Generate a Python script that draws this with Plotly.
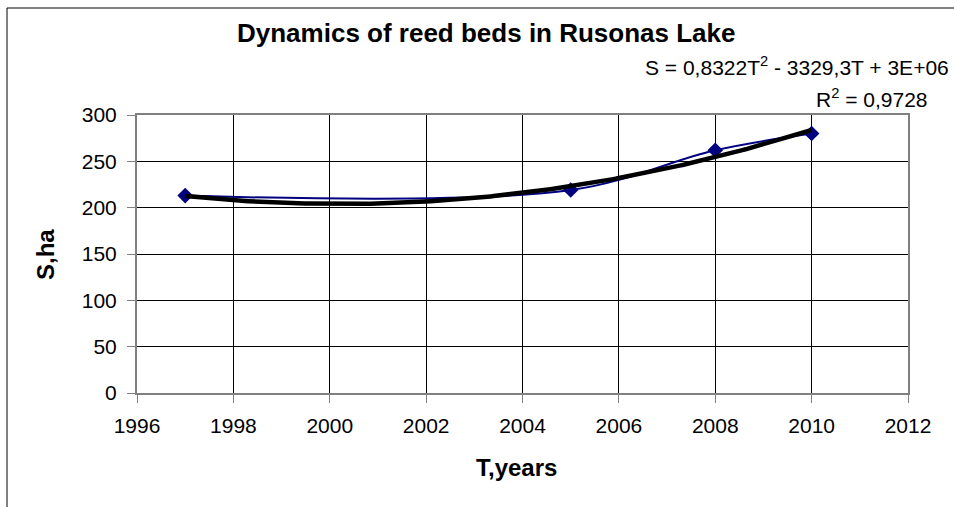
import numpy as np
import plotly.graph_objects as go

# ---- data ----
years = [1997, 2005, 2008, 2010]
area_ha = [213, 219, 262, 280]
title_text = "Dynamics of reed beds in Rusonas Lake"
eq_text = "S = 0,8322T<sup>2</sup> - 3329,3T + 3E+06"
r2_text = "R<sup>2</sup> = 0,9728"
x_title = "T,years"
y_title = "S,ha"

# quadratic trend (least squares, as the chart's trendline)
t = np.array(years, dtype=float)
coef = np.polyfit(t - 2000, np.array(area_ha, dtype=float), 2)
trend_x = np.linspace(min(years), max(years), 200)
trend_y = np.polyval(coef, trend_x - 2000)

W, H = 954, 507
L, R, T, B = 137, 46, 115, 114
PW, PH = W - L - R, H - T - B


def px(x):
    return (x - L) / PW


def py(y):
    return 1 - (y - T) / PH


FONT = "Liberation Sans, Arial, sans-serif"

fig = go.Figure()
fig.add_trace(go.Scatter(
    x=years, y=area_ha, mode="lines+markers",
    line=dict(color="#000080", width=2, shape="spline", smoothing=1),
    marker=dict(symbol="diamond", size=12, color="#000080"),
    showlegend=False, hoverinfo="x+y"))
fig.add_trace(go.Scatter(
    x=trend_x, y=trend_y, mode="lines",
    line=dict(color="black", width=4.5),
    showlegend=False, hoverinfo="skip"))

fig.update_layout(
    width=W, height=H,
    margin=dict(l=L, r=R, t=T, b=B),
    paper_bgcolor="white", plot_bgcolor="white",
    font=dict(family=FONT, color="black", size=21),
    xaxis=dict(range=[1996, 2012], dtick=2, tick0=1996,
               showgrid=True, gridcolor="black", gridwidth=1,
               showline=True, linecolor="#808080", linewidth=2, mirror=True,
               ticks="outside", ticklen=8, tickcolor="#808080",
               tickfont=dict(size=21), ticklabelstandoff=5, zeroline=False),
    yaxis=dict(range=[0, 300], dtick=50,
               showgrid=True, gridcolor="black", gridwidth=1,
               showline=True, linecolor="#808080", linewidth=2, mirror=True,
               ticks="outside", ticklen=8, tickcolor="#808080",
               tickfont=dict(size=21), ticklabelstandoff=6, zeroline=False),
    annotations=[
        dict(text="<b>" + title_text + "</b>", xref="paper", yref="paper",
             x=px(486), y=py(33), xanchor="center", yanchor="middle",
             showarrow=False, font=dict(size=26)),
        dict(text=eq_text, xref="paper", yref="paper",
             x=px(951), y=py(66), xanchor="right", yanchor="middle",
             showarrow=False, font=dict(size=21)),
        dict(text=r2_text, xref="paper", yref="paper",
             x=px(930), y=py(98), xanchor="right", yanchor="middle",
             showarrow=False, font=dict(size=21)),
        dict(text="<b>" + x_title + "</b>", xref="paper", yref="paper",
             x=px(516), y=py(467), xanchor="center", yanchor="middle",
             showarrow=False, font=dict(size=24)),
        dict(text="<b>" + y_title + "</b>", xref="paper", yref="paper",
             x=px(45), y=py(255), xanchor="center", yanchor="middle",
             textangle=-90, showarrow=False, font=dict(size=24)),
    ],
    shapes=[
        dict(type="path", xref="paper", yref="paper",
             path=f"M {px(7)} {py(600)} L {px(7)} {py(8)} L {px(1000)} {py(8)}",
             line=dict(color="black", width=1)),
    ],
)

fig.write_html("out.html", config={"displayModeBar": False},
               post_script="document.body.style.margin='0px';")
